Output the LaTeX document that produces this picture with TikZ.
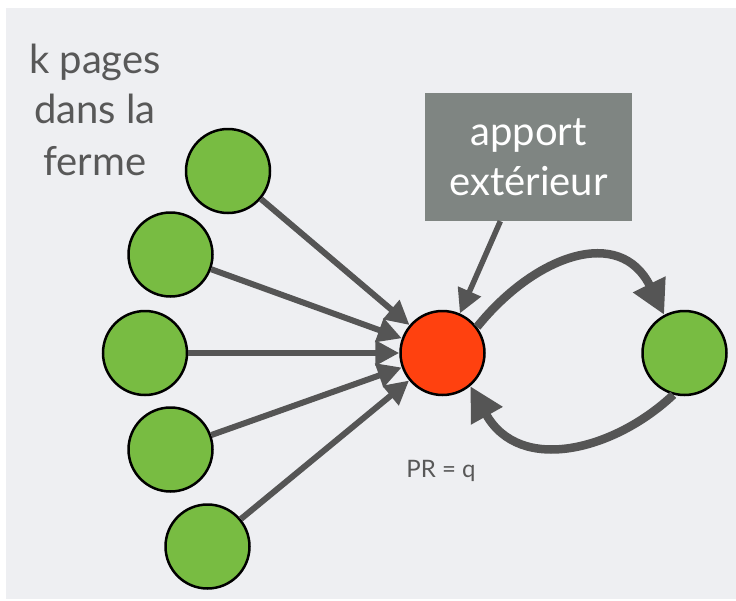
\documentclass[tikz,border=0pt]{standalone}
\usepackage{fontspec}
\setmainfont{Lato}
\usetikzlibrary{arrows.meta}
\definecolor{bgcol}{RGB}{238,239,242}
\definecolor{pgreen}{RGB}{120,188,66}
\definecolor{pred}{RGB}{255,65,15}
\definecolor{arrgray}{RGB}{85,85,85}
\definecolor{boxgray}{RGB}{127,133,130}
\definecolor{txtgray}{RGB}{88,88,88}
\tikzset{
  page/.style={circle, draw=black, line width=2.5pt, minimum size=84pt, inner sep=0pt},
  farm/.style={page, fill=pgreen},
  target/.style={page, fill=pred},
  inarr/.style={draw=arrgray, line width=6pt, -{Triangle[length=24pt,width=24pt]}},
  bigarr/.style={draw=arrgray, line width=8.5pt, -{Triangle[length=34pt,width=34pt]}},
  lbl/.style={anchor=base, text=txtgray, font=\fontsize{40}{48}\selectfont, inner sep=0pt},
}
\begin{document}
\begin{tikzpicture}[x=1pt,y=-1pt]
\useasboundingbox (0,0) rectangle (736,600);
\fill[white] (0,0) rectangle (736,600);
\fill[bgcol] (6,8) rectangle (736,599);

\node[lbl] (l1) at (95,73) {k pages};
\node[lbl] (l2) at (95,123) {dans la};
\node[lbl] (l3) at (95,175) {ferme};

\node[fill=boxgray, minimum width=207pt, minimum height=128pt, inner sep=0pt,
      text=white, align=center, font=\fontsize{40}{50}\selectfont] (box) at (528.5,157) {apport\\extérieur};

\node[farm] (g1) at (228,171) {};
\node[farm] (g2) at (170.5,254.5) {};
\node[farm] (g3) at (145,353) {};
\node[farm] (g4) at (170.5,449.5) {};
\node[farm] (g5) at (207.5,546.5) {};
\node[target] (r) at (442.5,353) {};
\node[farm] (g6) at (684.5,353) {};

\node[anchor=base, text=txtgray, font=\fontsize{24}{28}\selectfont, inner sep=0pt] (pr) at (441,477) {PR = q};

\draw[inarr] (g1) -- (r);
\draw[inarr] (g2) -- (r);
\draw[inarr] (g3) -- (r);
\draw[inarr] (g4) -- (r);
\draw[inarr] (g5) -- (r);
\draw[inarr, line width=5.5pt] (box) -- (r);

\draw[bigarr] (r.37) .. controls (535,255) and (620,225) .. (g6.118);
\draw[bigarr] (g6.-105) .. controls (615,450) and (520,475) .. (r.-50);
\end{tikzpicture}
\end{document}
